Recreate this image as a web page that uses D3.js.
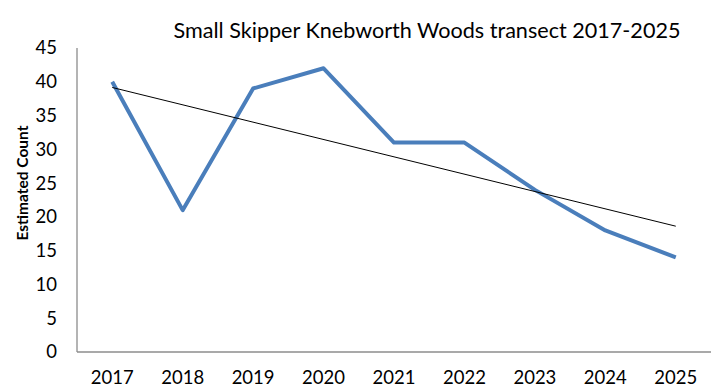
<!DOCTYPE html>
<html><head><meta charset="utf-8">
<script src="https://cdn.jsdelivr.net/npm/d3@7/dist/d3.min.js"></script>
<style>body{margin:0;background:#fff}</style>
</head><body>
<svg id="c" width="715" height="392"></svg>
<script>
const years = ["2017","2018","2019","2020","2021","2022","2023","2024","2025"];
const counts = [40, 21, 39, 42, 31, 31, 24, 18, 14];
const yTicks = [0,5,10,15,20,25,30,35,40,45];
const title = "Small Skipper Knebworth Woods transect 2017-2025";
const yTitle = "Estimated Count";

const svg = d3.select("#c");
const m = {l:77, r:711, t:48, b:352};
const x = d3.scaleBand().domain(years).range([m.l, m.r]);
const y = d3.scaleLinear().domain([0,45]).range([m.b, m.t]);
const font = "Lato, 'Open Sans', sans-serif";

// axes lines
svg.append("line").attr("x1",m.l).attr("x2",m.l).attr("y1",m.t).attr("y2",m.b).attr("stroke","#8c8c8c").attr("stroke-width",1.3);
svg.append("line").attr("x1",m.l).attr("x2",m.r).attr("y1",m.b).attr("y2",m.b).attr("stroke","#8c8c8c").attr("stroke-width",1.3);

// y tick labels
svg.selectAll(".yt").data(yTicks).enter().append("text")
  .attr("x",57).attr("y",d=>y(d)).attr("dy","0.35em").attr("text-anchor","end")
  .attr("font-family",font).attr("font-size",18.5).attr("fill","#000").text(d=>d);

// x tick labels
svg.selectAll(".xt").data(years).enter().append("text")
  .attr("x",d=>x(d)+x.bandwidth()/2).attr("y",384).attr("text-anchor","middle")
  .attr("font-family",font).attr("font-size",18.5).attr("fill","#000").text(d=>d);

// title
svg.append("text").attr("x",427).attr("y",38).attr("text-anchor","middle")
  .attr("font-family",font).attr("font-size",21.6).attr("fill","#000").text(title);

// y title
svg.append("text").attr("transform","translate(27.5,183) rotate(-90)").attr("text-anchor","middle")
  .attr("font-family",font).attr("font-size",15.5).attr("font-weight","bold").attr("fill","#000").text(yTitle);

// data line
const pts = years.map((yr,i)=>({x:yr, v:counts[i]}));
const line = d3.line().x(d=>x(d.x)+x.bandwidth()/2).y(d=>y(d.v));
svg.append("path").datum(pts).attr("d",line).attr("fill","none")
  .attr("stroke","#4a7ebb").attr("stroke-width",4).attr("stroke-linejoin","round");

// linear trend (least squares)
const n = counts.length;
const xm = (n-1)/2, ym = d3.mean(counts);
let sxy=0, sxx=0;
counts.forEach((v,i)=>{sxy+=(i-xm)*(v-ym); sxx+=(i-xm)*(i-xm);});
const slope = sxy/sxx, icpt = ym - slope*xm;
const trend = [{x:years[0], v:icpt},{x:years[n-1], v:icpt+slope*(n-1)}];
svg.append("path").datum(trend).attr("d",line).attr("fill","none")
  .attr("stroke","#000").attr("stroke-width",1);
</script>
</body></html>
